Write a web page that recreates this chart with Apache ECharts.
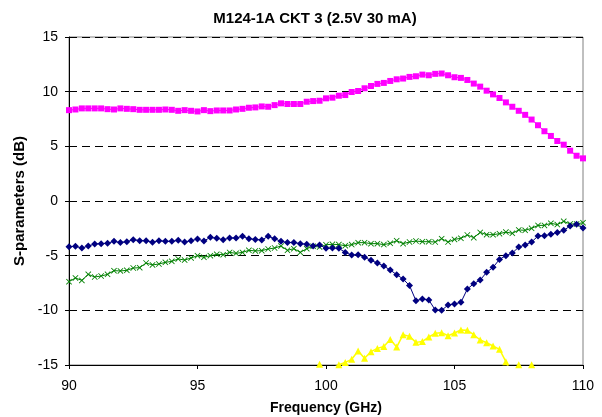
<!DOCTYPE html>
<html>
<head>
<meta charset="utf-8">
<script src="https://cdn.jsdelivr.net/npm/echarts@6/dist/echarts.min.js"></script>
<style>
  html, body { margin: 0; padding: 0; background: #fff; }
  #chart { width: 602px; height: 417px; }
</style>
</head>
<body>
<div id="chart"></div>
<script>
const freq = [
  90, 90.25, 90.5, 90.75, 91, 91.25, 91.5, 91.75, 92, 92.25, 92.5, 92.75,
  93, 93.25, 93.5, 93.75, 94, 94.25, 94.5, 94.75, 95, 95.25, 95.5, 95.75,
  96, 96.25, 96.5, 96.75, 97, 97.25, 97.5, 97.75, 98, 98.25, 98.5, 98.75,
  99, 99.25, 99.5, 99.75, 100, 100.25, 100.5, 100.75, 101, 101.25, 101.5, 101.75,
  102, 102.25, 102.5, 102.75, 103, 103.25, 103.5, 103.75, 104, 104.25, 104.5, 104.75,
  105, 105.25, 105.5, 105.75, 106, 106.25, 106.5, 106.75, 107, 107.25, 107.5, 107.75,
  108, 108.25, 108.5, 108.75, 109, 109.25, 109.5, 109.75, 110
];

// magenta squares
const s21 = [
  8.31, 8.37, 8.47, 8.47, 8.47, 8.47, 8.40, 8.37, 8.47, 8.43, 8.40, 8.34,
  8.34, 8.34, 8.34, 8.37, 8.34, 8.25, 8.31, 8.25, 8.19, 8.31, 8.22, 8.28,
  8.28, 8.28, 8.37, 8.43, 8.53, 8.56, 8.65, 8.62, 8.77, 8.93, 8.87, 8.87,
  8.87, 9.08, 9.14, 9.17, 9.39, 9.45, 9.63, 9.69, 9.97, 10.06, 10.31, 10.52,
  10.71, 10.80, 10.98, 11.13, 11.20, 11.35, 11.41, 11.56, 11.50, 11.63, 11.66, 11.50,
  11.32, 11.26, 11.07, 10.74, 10.46, 10.09, 9.75, 9.42, 9.02, 8.62, 8.25, 7.88,
  7.45, 6.93, 6.38, 5.95, 5.49, 5.15, 4.60, 4.14, 3.90
];

// navy diamonds
const s11 = [
  -4.18, -4.15, -4.30, -4.12, -3.93, -3.90, -3.87, -3.69, -3.80, -3.72, -3.54, -3.63,
  -3.63, -3.78, -3.63, -3.69, -3.69, -3.60, -3.75, -3.63, -3.48, -3.66, -3.32, -3.41,
  -3.54, -3.38, -3.38, -3.23, -3.45, -3.51, -3.57, -3.23, -3.45, -3.69, -3.80, -3.80,
  -3.90, -3.96, -4.12, -4.02, -4.33, -4.30, -4.33, -4.70, -4.94, -4.91, -5.15, -5.43,
  -5.67, -5.95, -6.31, -6.74, -7.13, -7.74, -9.12, -8.96, -9.05, -9.97, -10.00, -9.51,
  -9.42, -9.27, -8.05, -7.56, -7.23, -6.52, -6.07, -5.34, -5.00, -4.76, -4.21, -4.02,
  -3.75, -3.20, -3.17, -3.05, -2.87, -2.68, -2.29, -2.13, -2.47
];

// green crosses
const s22 = [
  -7.38, -7.04, -7.26, -6.71, -6.95, -6.86, -6.71, -6.37, -6.40, -6.34, -6.13, -6.10,
  -5.67, -5.85, -5.76, -5.61, -5.52, -5.30, -5.40, -5.21, -5.00, -5.15, -5.00, -4.88,
  -4.91, -4.70, -4.79, -4.70, -4.51, -4.57, -4.54, -4.39, -4.30, -4.12, -4.51, -4.36,
  -4.70, -4.36, -4.15, -4.21, -4.00, -3.96, -3.99, -4.09, -3.99, -3.81, -3.81, -3.90,
  -3.90, -3.99, -3.87, -3.63, -3.90, -3.75, -3.66, -3.72, -3.72, -3.75, -3.45, -3.75,
  -3.51, -3.41, -3.11, -3.35, -2.87, -3.08, -3.08, -2.99, -2.84, -2.96, -2.65, -2.68,
  -2.50, -2.23, -2.23, -2.04, -2.16, -1.86, -2.10, -2.10, -1.98
];

// yellow triangles (mostly below the axis floor)
const s12 = [
  null, null, null, null, null, null, null, null, null, null, null, null,
  null, null, null, null, null, null, null, null, null, null, null, null,
  null, null, null, null, null, null, null, null, null, null, null, null,
  null, null, -16.0, -14.94, -15.4, -15.3, -14.98, -14.76, -14.48, -13.72, -14.39, -13.78,
  -13.48, -13.30, -12.66, -13.36, -12.23, -12.38, -12.93, -12.84, -12.44, -12.10, -12.04, -12.32,
  -12.07, -11.80, -11.83, -12.23, -12.71, -12.96, -13.26, -13.57, -14.70, -16.0, -14.98, -15.6,
  -14.98, -16.0, null, null, null, null, null, null, null
];

const yTicks = [-15, -10, -5, 0, 5, 10, 15];
const xTicks = [90, 95, 100, 105, 110];

const crossPath = 'path://M0,1L1,0L5,4L9,0L10,1L6,5L10,9L9,10L5,6L1,10L0,9L4,5Z';
const font = 'Liberation Sans, Arial';

function pairs(ys) {
  return freq.map((f, i) => [f, ys[i]]);
}

const myChart = echarts.init(document.getElementById('chart'));
const option = {
  animation: false,
  backgroundColor: '#fff',
  title: {
    text: 'M124-1A CKT 3 (2.5V 30 mA)',
    left: 310,
    top: 6,
    textAlign: 'center',
    textStyle: { fontFamily: font, fontSize: 15, fontWeight: 'bold', color: '#000' }
  },
  grid: {
    left: 69,
    right: 19,
    top: 37,
    bottom: 52,
    outerBoundsMode: 'none',
    containLabel: false,
    show: true,
    borderColor: '#808080',
    borderWidth: 1
  },
  xAxis: {
    type: 'value',
    min: xTicks[0],
    max: xTicks[xTicks.length - 1],
    interval: 5,
    name: 'Frequency (GHz)',
    nameLocation: 'middle',
    nameGap: 36,
    nameTextStyle: { fontFamily: font, fontSize: 14, fontWeight: 'bold', color: '#000' },
    axisLine: { show: true, onZero: false, lineStyle: { color: '#000', width: 1 } },
    axisTick: { show: true, inside: false, length: 4, lineStyle: { color: '#000' } },
    axisLabel: { fontFamily: font, fontSize: 14, color: '#000', margin: 14 },
    splitLine: { show: false }
  },
  yAxis: {
    type: 'value',
    min: yTicks[0],
    max: yTicks[yTicks.length - 1],
    interval: 5,
    name: 'S-parameters (dB)',
    nameLocation: 'middle',
    nameGap: 38,
    nameTextStyle: { fontFamily: font, fontSize: 15, fontWeight: 'bold', color: '#000' },
    axisLine: { show: true, onZero: false, lineStyle: { color: '#000', width: 1 } },
    axisTick: { show: true, inside: false, length: 4, lineStyle: { color: '#000' } },
    axisLabel: { fontFamily: font, fontSize: 14, color: '#000', margin: 11 },
    splitLine: {
      show: true,
      lineStyle: { type: [8, 5], color: '#000', width: 1 }
    }
  },
  series: [
    {
      name: 'S21',
      type: 'line',
      data: pairs(s21),
      symbol: 'rect',
      symbolSize: 6,
      itemStyle: { color: '#FF00FF' },
      lineStyle: { color: '#FF00FF', width: 1 },
      z: 3
    },
    {
      name: 'S22',
      type: 'line',
      data: pairs(s22),
      symbol: crossPath,
      symbolSize: 6,
      itemStyle: { color: '#008000' },
      lineStyle: { color: '#008000', width: 1 },
      z: 3
    },
    {
      name: 'S11',
      type: 'line',
      data: pairs(s11),
      symbol: 'diamond',
      symbolSize: 7,
      itemStyle: { color: '#000080' },
      lineStyle: { color: '#000080', width: 1 },
      z: 4
    },
    {
      name: 'S12',
      type: 'line',
      data: pairs(s12),
      connectNulls: false,
      symbol: 'triangle',
      symbolSize: 7,
      itemStyle: { color: '#FFFF00' },
      lineStyle: { color: '#FFFF00', width: 1.5 },
      clip: true,
      z: 3
    }
  ]
};
myChart.setOption(option);
</script>
</body>
</html>
